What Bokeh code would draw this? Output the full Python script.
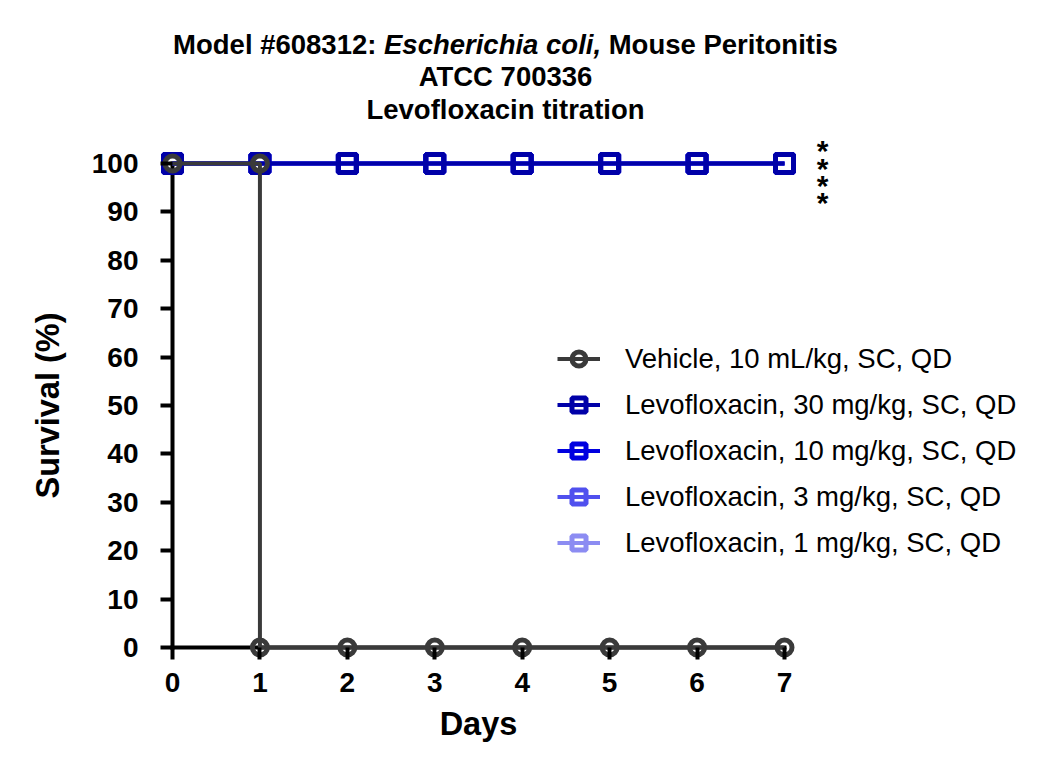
from bokeh.plotting import figure
from bokeh.models import Range1d, FixedTicker, Label, Legend, LegendItem, LinearAxis
from bokeh.embed import file_html
from bokeh.resources import INLINE

# ---------------- data ----------------
days = [0, 1, 2, 3, 4, 5, 6, 7]
vehicle_days = [0, 1, 1, 2, 3, 4, 5, 6, 7]
vehicle_surv = [100, 100, 0, 0, 0, 0, 0, 0, 0]
levo30_surv = [100, 100, 100, 100, 100, 100, 100, 100]
levo10_surv = [100, 100, 100, 100, 100, 100, 100, 100]
levo3_surv = [100, 100, 100, 100, 100, 100, 100, 100]
levo1_surv = [100, 100, 100, 100, 100, 100, 100, 100]
x_ticks = [0, 1, 2, 3, 4, 5, 6, 7]
y_ticks = [0, 10, 20, 30, 40, 50, 60, 70, 80, 90, 100]
legend_labels = [
    "Vehicle, 10 mL/kg, SC, QD",
    "Levofloxacin, 30 mg/kg, SC, QD",
    "Levofloxacin, 10 mg/kg, SC, QD",
    "Levofloxacin, 3 mg/kg, SC, QD",
    "Levofloxacin, 1 mg/kg, SC, QD",
]
title_parts = ["Model #608312:", "Escherichia coli,", "Mouse Peritonitis"]
title_line2 = "ATCC 700336"
title_line3 = "Levofloxacin titration"
significance = "*"

# ---------------- layout helpers ----------------
FONT = "Liberation Sans"
X0, X7 = 172.0, 784.0      # canvas px of day 0 / day 7
Y100, Y0 = 163.0, 647.0    # canvas px of 100 % / 0 %
SX = (X7 - X0) / 7.0
SY = (Y0 - Y100) / 100.0

def px2x(px):
    return (px - X0) / SX

def px2y(py):
    return 100.0 - (py - Y100) / SY

W, H = 1040, 765
ML, MR, MT, MB = 2, 2, 2, 2
frame_l, frame_r = ML, W - MR
frame_t, frame_b = MT, H - MB

p = figure(width=W, height=H, title=None,
           x_range=Range1d(px2x(frame_l), px2x(frame_r)),
           y_range=Range1d(px2y(frame_b), px2y(frame_t)),
           x_axis_location=None, y_axis_location=None,
           min_border_left=ML, min_border_right=MR,
           min_border_top=MT, min_border_bottom=MB,
           output_backend="svg", toolbar_location=None)
p.outline_line_color = None
p.background_fill_color = "white"
p.border_fill_color = "white"
p.xgrid.visible = False
p.ygrid.visible = False

# axis lines drawn beneath the data (underlay)
xline = LinearAxis(ticker=FixedTicker(ticks=[]), bounds=(0, 7), fixed_location=0,
                   axis_line_width=4, axis_line_color="black", axis_line_cap="square",
                   major_tick_line_color=None, minor_tick_line_color=None,
                   level="underlay")
yline = LinearAxis(ticker=FixedTicker(ticks=[]), bounds=(0, 100), fixed_location=0,
                   axis_line_width=4, axis_line_color="black", axis_line_cap="square",
                   major_tick_line_color=None, minor_tick_line_color=None,
                   level="underlay")
p.add_layout(xline, "below")
p.add_layout(yline, "left")

# ticks, tick labels and axis titles
def make_axis(ticks, bnd, label, lab_standoff, title_standoff):
    return LinearAxis(
        ticker=FixedTicker(ticks=ticks), bounds=bnd, fixed_location=0,
        axis_line_color=None,
        major_tick_line_width=4, major_tick_line_color="black",
        major_tick_out=12, major_tick_in=0, minor_tick_line_color=None,
        major_label_text_font=FONT, major_label_text_font_style="bold",
        major_label_text_font_size="28px", major_label_text_color="black",
        major_label_standoff=lab_standoff,
        axis_label=label, axis_label_text_font=FONT,
        axis_label_text_font_style="bold", axis_label_text_font_size="32.5px",
        axis_label_text_color="black", axis_label_standoff=title_standoff)

xaxis = make_axis(x_ticks, (0, 7), "Days", 13, 11)
yaxis = make_axis(y_ticks, (0, 100), "Survival (%)", 22, 23)
p.add_layout(xaxis, "below")
p.add_layout(yaxis, "left")

# ---------------- series ----------------
series = [
    ("Levofloxacin, 1 mg/kg, SC, QD", days, levo1_surv, "#8C8CF2", "square", 18, 5),
    ("Levofloxacin, 3 mg/kg, SC, QD", days, levo3_surv, "#5050EE", "square", 18, 5),
    ("Levofloxacin, 10 mg/kg, SC, QD", days, levo10_surv, "#0000E0", "square", 18, 5),
    ("Levofloxacin, 30 mg/kg, SC, QD", days, levo30_surv, "#0000A8", "square", 18, 5),
    ("Vehicle, 10 mL/kg, SC, QD", vehicle_days, vehicle_surv, "#3A3A3A", "circle", 15, 5),
]
items = {}
for name, xs, ys, col, mk, sz, lw in series:
    lr = p.line(xs, ys, line_color=col, line_width=4)
    sr = p.scatter(xs, ys, marker=mk, size=sz, line_color=col, line_width=lw,
                   fill_color=None)
    items[name] = LegendItem(label=name, renderers=[lr, sr])

legend = Legend(items=[items[n] for n in legend_labels],
                location=(557 - frame_l, frame_b - 560),
                glyph_width=43, glyph_height=35, spacing=11,
                label_standoff=25, padding=0, margin=0,
                label_text_font=FONT, label_text_font_size="27.5px",
                label_text_color="black",
                border_line_color=None, background_fill_alpha=0)
p.add_layout(legend)

# ---------------- title ----------------
fs = 27.5
em_space = 0.278 * fs
w1 = 7.392 * fs
w2 = 7.893 * fs
w3 = 8.335 * fs
total = w1 + w2 + w3 + 2 * em_space
start = 505.0 - total / 2
xs_title = [start, start + w1 + em_space, start + w1 + w2 + 2 * em_space]
styles = ["bold", "bold italic", "bold"]
for txt, xp, st in zip(title_parts, xs_title, styles):
    p.add_layout(Label(x=px2x(xp), y=px2y(43.5), text=txt, text_font=FONT,
                       text_font_style=st, text_font_size="27.5px",
                       text_align="left", text_baseline="alphabetic",
                       text_color="black"))
for txt, yb in ((title_line2, 76), (title_line3, 108.5)):
    p.add_layout(Label(x=px2x(505), y=px2y(yb), text=txt, text_font=FONT,
                       text_font_style="bold", text_font_size="27.5px",
                       text_align="center", text_baseline="alphabetic",
                       text_color="black"))

# significance stars next to the treated groups
for yb in (150, 167.5, 184.5, 201.5):
    p.add_layout(Label(x=px2x(822), y=px2y(yb), text=significance,
                       text_font=FONT, text_font_style="bold",
                       text_font_size="30px", text_align="center",
                       text_baseline="alphabetic", text_color="black"))

open("out.html", "w").write(file_html(p, INLINE))
